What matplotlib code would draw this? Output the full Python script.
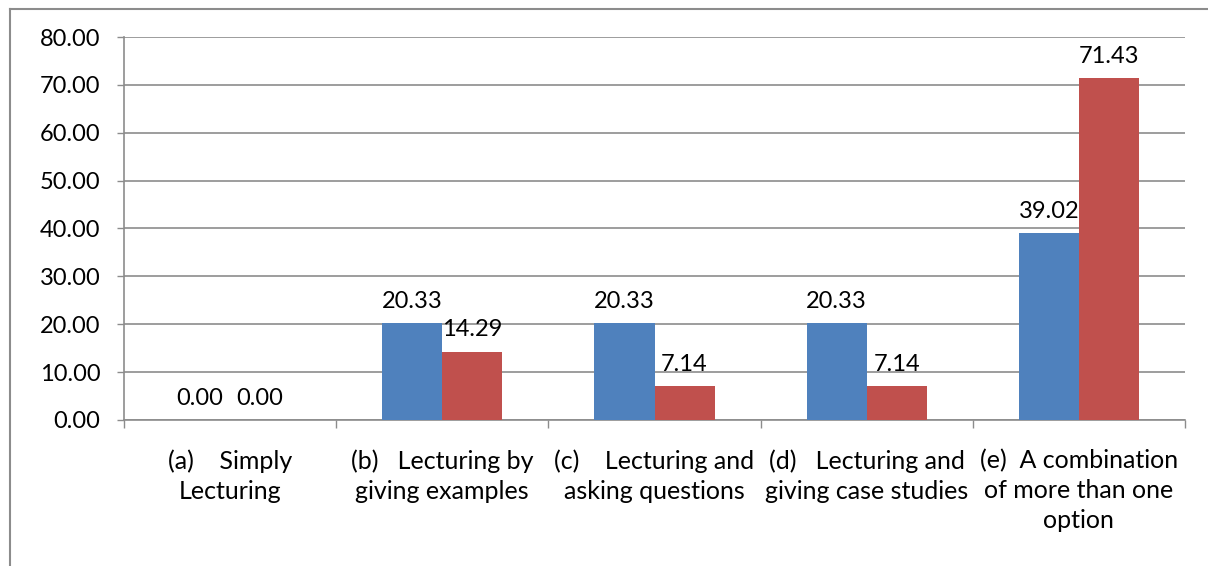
import numpy as np
import matplotlib.pyplot as plt
from matplotlib.lines import Line2D

categories = ["(a)    Simply\nLecturing",
              "(b)   Lecturing by\ngiving examples",
              "(c)    Lecturing and\nasking questions",
              "(d)   Lecturing and\ngiving case studies",
              "(e)  A combination\nof more than one\noption"]
series_blue = [0.00, 20.33, 20.33, 20.33, 39.02]
series_red = [0.00, 14.29, 7.14, 7.14, 71.43]
yticks = [0, 10, 20, 30, 40, 50, 60, 70, 80]

plt.rcParams['font.family'] = ['Lato', 'DejaVu Sans']
FS = 17
FS_CAT = 18

fig = plt.figure(figsize=(12.08, 5.66), dpi=100)
ax = fig.add_axes([124/1208, 1-420/566, (1185-124)/1208, (420-37)/566])

x = np.arange(len(categories))
w = 0.283
b1 = ax.bar(x - w/2, series_blue, w, color='#4F81BD', zorder=3)
b2 = ax.bar(x + w/2, series_red, w, color='#C0504D', zorder=3)

for bars, vals in ((b1, series_blue), (b2, series_red)):
    for r, v in zip(bars, vals):
        ax.annotate(f"{v:.2f}", (r.get_x() + r.get_width()/2, v),
                    xytext=(0, 8), textcoords='offset points',
                    ha='center', va='bottom', fontsize=FS, color='black')

ax.set_xlim(-0.5, len(categories) - 0.5)
ax.set_ylim(0, 80)
ax.set_yticks(yticks)
ax.set_yticklabels([f"{t:.2f}" for t in yticks], fontsize=FS)
ax.yaxis.grid(True, color='#8c8c8c', linewidth=1.2, zorder=0)
ax.tick_params(axis='y', length=5, width=1, color='#8c8c8c', pad=12)

ax.set_xticks(np.arange(len(categories) + 1) - 0.5)
ax.set_xticklabels([])
ax.set_xticks(x, minor=True)
ax.set_xticklabels(categories, minor=True, fontsize=FS_CAT, linespacing=1.36)
ax.tick_params(axis='x', which='major', length=6, width=1, color='#8c8c8c', direction='out')
ax.tick_params(axis='x', which='minor', length=0, pad=21)

for s in ['top', 'right']:
    ax.spines[s].set_visible(False)
for s in ['left', 'bottom']:
    ax.spines[s].set_color('#8c8c8c')
    ax.spines[s].set_linewidth(1.2)

# outer chart border (left and top visible)
bx, by = 9.5/1208, 1 - 8.5/566
fig.add_artist(Line2D([bx, bx], [0, by], color='#8c8c8c', linewidth=1.5, transform=fig.transFigure))
fig.add_artist(Line2D([bx, 1], [by, by], color='#8c8c8c', linewidth=1.5, transform=fig.transFigure))

fig.savefig("out.png", dpi=100)
